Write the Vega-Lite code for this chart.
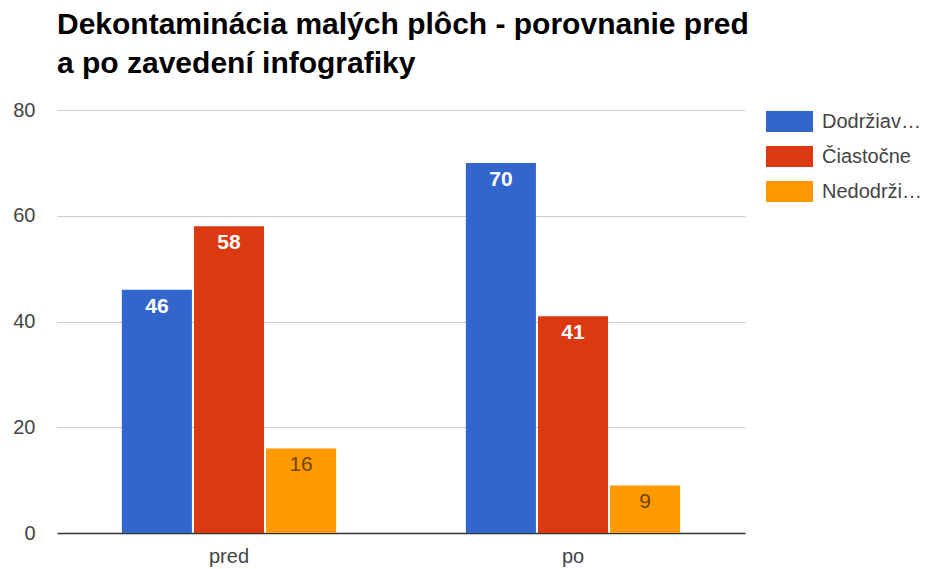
{
  "$schema": "https://vega.github.io/schema/vega-lite/v6.json",
  "width": 688,
  "height": 423,
  "autosize": {"type": "none"},
  "padding": {"left": 57, "top": 110, "right": 192, "bottom": 36},
  "background": "white",
  "title": {
    "text": ["Dekontaminácia malých plôch - porovnanie pred", "a po zavedení infografiky"],
    "anchor": "start",
    "frame": "group",
    "font": "Liberation Sans",
    "fontSize": 30,
    "fontWeight": "bold",
    "color": "#000000",
    "lineHeight": 39,
    "offset": 19
  },
  "config": {
    "view": {"stroke": null},
    "font": "Liberation Sans"
  },
  "data": {
    "values": [
      {"obdobie": "pred", "seria": "Dodržiav…", "hodnota": 46},
      {"obdobie": "pred", "seria": "Čiastočne", "hodnota": 58},
      {"obdobie": "pred", "seria": "Nedodrži…", "hodnota": 16},
      {"obdobie": "po", "seria": "Dodržiav…", "hodnota": 70},
      {"obdobie": "po", "seria": "Čiastočne", "hodnota": 41},
      {"obdobie": "po", "seria": "Nedodrži…", "hodnota": 9}
    ]
  },
  "encoding": {
    "x": {
      "field": "obdobie",
      "type": "nominal",
      "sort": ["pred", "po"],
      "scale": {"paddingInner": 0, "paddingOuter": 0},
      "axis": {
        "title": null,
        "labelAngle": 0,
        "labelFont": "Liberation Sans",
        "labelFontSize": 20,
        "labelColor": "#444444",
        "labelPadding": 13,
        "ticks": false,
        "domainColor": "#333333",
        "domainWidth": 1.5,
        "grid": false
      }
    },
    "xOffset": {
      "field": "seria",
      "type": "nominal",
      "sort": ["Dodržiav…", "Čiastočne", "Nedodrži…"],
      "scale": {"paddingInner": 0.028, "paddingOuter": 0.9}
    },
    "y": {
      "field": "hodnota",
      "type": "quantitative",
      "scale": {"domain": [0, 80], "nice": false},
      "axis": {
        "title": null,
        "values": [0, 20, 40, 60, 80],
        "labelFont": "Liberation Sans",
        "labelFontSize": 20,
        "labelColor": "#444444",
        "labelPadding": 22,
        "ticks": false,
        "domain": false,
        "gridColor": "#cccccc",
        "gridWidth": 1
      }
    }
  },
  "layer": [
    {
      "mark": {"type": "bar"},
      "encoding": {
        "color": {
          "field": "seria",
          "type": "nominal",
          "sort": ["Dodržiav…", "Čiastočne", "Nedodrži…"],
          "scale": {
            "domain": ["Dodržiav…", "Čiastočne", "Nedodrži…"],
            "range": ["#3366cc", "#dc3912", "#ff9900"]
          },
          "legend": {
            "title": null,
            "orient": "none",
            "legendX": 709,
            "legendY": -12,
            "symbolType": "M-1,-0.447H1V0.447H-1Z",
            "symbolSize": 2209,
            "symbolStrokeWidth": 0,
            "labelFont": "Liberation Sans",
            "labelFontSize": 20,
            "labelColor": "#444444",
            "labelOffset": 9,
            "rowPadding": -11,
            "padding": 0
          }
        }
      }
    },
    {
      "transform": [{"filter": "datum.seria !== 'Nedodrži…'"}],
      "mark": {
        "type": "text",
        "baseline": "top",
        "dy": 6,
        "font": "Liberation Sans",
        "fontSize": 21,
        "fontWeight": "bold",
        "color": "#ffffff"
      },
      "encoding": {"text": {"field": "hodnota", "type": "quantitative"}}
    },
    {
      "transform": [{"filter": "datum.seria === 'Nedodrži…'"}],
      "mark": {
        "type": "text",
        "baseline": "top",
        "dy": 6,
        "font": "Liberation Sans",
        "fontSize": 21,
        "color": "#6e4600"
      },
      "encoding": {"text": {"field": "hodnota", "type": "quantitative"}}
    }
  ]
}
